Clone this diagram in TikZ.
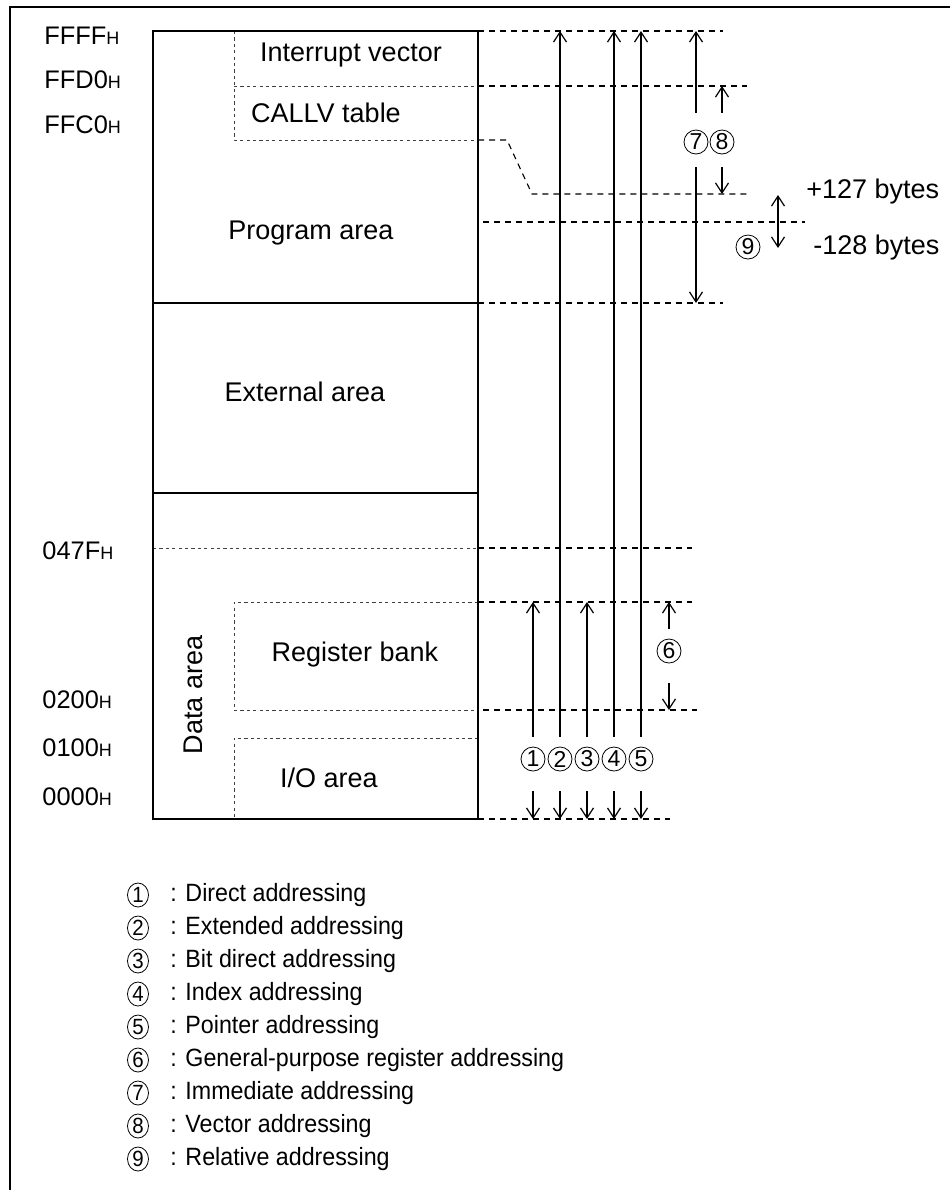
\documentclass[tikz,border=0pt]{standalone}
\usepackage{fontspec}
\setmainfont{Liberation Sans}
\newfontfamily\legendfont[FakeStretch=0.93]{Liberation Sans}
\usetikzlibrary{positioning,arrows.meta,shapes.geometric}
\newcommand{\hexsub}[1]{#1{\fontsize{9}{10}\selectfont H}}
\tikzset{
  membox/.style={line width=1.25pt},
  memsep/.style={line width=0.6pt},
  frame/.style={line width=1pt},
  guide/.style={line width=0.55pt,dash pattern=on 3pt off 2.5pt},
  innerdash/.style={line width=0.45pt,black!75,dash pattern=on 1.6pt off 1.6pt},
  arr/.style={-{Straight Barb[length=5pt,width=6.5pt]},line width=0.6pt},
  dblarr/.style={{Straight Barb[length=5pt,width=6.5pt]}-{Straight Barb[length=5pt,width=6.5pt]},line width=0.6pt},
  lbl/.style={inner sep=0pt,font=\fontsize{13.5}{16}\selectfont},
  hexlbl/.style={inner sep=0pt,anchor=west,font=\fontsize{12.7}{15}\selectfont},
  circnum/.style={circle,draw,line width=0.4pt,inner sep=0pt,minimum size=12pt,
    font=\fontsize{11.5}{12}\selectfont},
  legnum/.style={ellipse,draw,line width=0.4pt,inner sep=0pt,minimum width=10.5pt,
    minimum height=12pt,font=\legendfont\fontsize{11}{12}\selectfont},
  legtext/.style={inner sep=0pt,anchor=west,font=\legendfont\fontsize{12.5}{15}\selectfont}
}
\begin{document}
\begin{tikzpicture}[x=0.5pt,y=-0.5pt]
  \useasboundingbox (0,0) rectangle (950,1190);
  % frame
  \draw[frame] (10,1190) -- (10,7) -- (950,7);
  % address levels
  \coordinate (ffff) at (478,31);
  \coordinate (ffd0) at (478,86);
  \coordinate (ffc0) at (478,140);
  \coordinate (callvend) at (532,194);
  \coordinate (progend) at (478,303);
  \coordinate (rbtop) at (478,602);
  \coordinate (rbbot) at (478,710);
  \coordinate (zero) at (478,819);
  % memory map
  \draw[memsep] (153,303) -- (progend);
  \draw[memsep] (153,493) -- (478,493);
  \draw[innerdash] (234,31) -- (234,140) -- (ffc0);
  \draw[innerdash] (234,86) -- (ffd0);
  \draw[innerdash] (153,548) -- (478,548);
  \draw[innerdash] (rbtop) -- (234,602) -- (234,710) -- (rbbot);
  \draw[innerdash] (478,738) -- (234,738) -- (234,819);
  \draw[membox] (153,31) rectangle (zero);
  % guides
  \draw[guide] (ffff) -- ++(245,0);
  \draw[guide] (ffd0) -- ++(269,0);
  \draw[guide] (ffc0) -- (507,140) -- (callvend) -- (747,194);
  \draw[guide] (483,222) -- (805,222);
  \draw[guide] (progend) -- ++(245,0);
  \draw[guide] (478,548) -- (692,548);
  \draw[guide] (rbtop) -- ++(214,0);
  \draw[guide] (483,710) -- (697,710);
  \draw[guide] (zero) -- ++(192,0);
  % area names
  \node[lbl] (intvec) at (351,55) {Interrupt vector};
  \node[lbl] (callv) at (326,113) {CALLV table};
  \node[lbl] (prog) at (311,233) {Program area};
  \node[lbl] (ext) at (305,392) {External area};
  \node[lbl] (regbank) at (355,655) {Register bank};
  \node[lbl] (ioarea) at (329,778) {I/O area};
  \node[lbl,rotate=90] (dataarea) at (193,695) {Data area};
  % addresses
  \node[hexlbl] (aFFFF) at (44,36) {\hexsub{FFFF}};
  \node[hexlbl] (aFFD0) at (44,80) {\hexsub{FFD0}};
  \node[hexlbl] (aFFC0) at (44,125) {\hexsub{FFC0}};
  \node[hexlbl] (a047F) at (42,551) {\hexsub{047F}};
  \node[hexlbl] (a0200) at (42,700) {\hexsub{0200}};
  \node[hexlbl] (a0100) at (42,748) {\hexsub{0100}};
  \node[hexlbl] (a0000) at (42,797) {\hexsub{0000}};
  % addressing ranges
  \node[circnum] (c1) at (533,759) {1};
  \node[circnum] (c2) at (560,759) {2};
  \node[circnum] (c3) at (587,759) {3};
  \node[circnum] (c4) at (614,759) {4};
  \node[circnum] (c5) at (641,759) {5};
  \node[circnum] (c6) at (669,651) {6};
  \node[circnum] (c7) at (696,142) {7};
  \node[circnum] (c8) at (722,142) {8};
  \node[circnum] (c9) at (748,247) {9};
  \draw[arr,shorten <=5pt] (c1) -- (c1 |- rbtop);
  \draw[arr,shorten <=5pt] (c2) -- (c2 |- ffff);
  \draw[arr,shorten <=5pt] (c3) -- (c3 |- rbtop);
  \draw[arr,shorten <=5pt] (c4) -- (c4 |- ffff);
  \draw[arr,shorten <=5pt] (c5) -- (c5 |- ffff);
  \draw[arr,shorten <=10pt] (c1) -- (c1 |- zero);
  \draw[arr,shorten <=10pt] (c2) -- (c2 |- zero);
  \draw[arr,shorten <=10pt] (c3) -- (c3 |- zero);
  \draw[arr,shorten <=10pt] (c4) -- (c4 |- zero);
  \draw[arr,shorten <=10pt] (c5) -- (c5 |- zero);
  \draw[arr,shorten <=5pt] (c6) -- (c6 |- rbtop);
  \draw[arr,shorten <=10pt] (c6) -- (c6 |- rbbot);
  \draw[arr,shorten <=8.5pt] (c7) -- (c7 |- ffff);
  \draw[arr,shorten <=6.5pt] (c7) -- (c7 |- progend);
  \draw[arr,shorten <=8.5pt] (c8) -- (c8 |- ffd0);
  \draw[arr,shorten <=6.5pt] (c8) -- (c8 |- callvend);
  \coordinate (reltop) at (778,195);
  \coordinate (relbot) at (778,248);
  \draw[dblarr] (reltop) -- (relbot);
  \node[lbl,anchor=west] (plus) at (806,192) {+127 bytes};
  \node[lbl,anchor=west] (minus) at (813,248) {-128 bytes};
  % legend
  \node[legnum] (l1) at (138,895) {1};
  \node[legtext] (t1) at (170,895) {: Direct addressing};
  \node[legnum] (l2) at (138,928) {2};
  \node[legtext] (t2) at (170,928) {: Extended addressing};
  \node[legnum] (l3) at (138,961) {3};
  \node[legtext] (t3) at (170,961) {: Bit direct addressing};
  \node[legnum] (l4) at (138,994) {4};
  \node[legtext] (t4) at (170,994) {: Index addressing};
  \node[legnum] (l5) at (138,1027) {5};
  \node[legtext] (t5) at (170,1027) {: Pointer addressing};
  \node[legnum] (l6) at (138,1060) {6};
  \node[legtext] (t6) at (170,1060) {: General-purpose register addressing};
  \node[legnum] (l7) at (138,1093) {7};
  \node[legtext] (t7) at (170,1093) {: Immediate addressing};
  \node[legnum] (l8) at (138,1126) {8};
  \node[legtext] (t8) at (170,1126) {: Vector addressing};
  \node[legnum] (l9) at (138,1159) {9};
  \node[legtext] (t9) at (170,1159) {: Relative addressing};
\end{tikzpicture}
\end{document}
